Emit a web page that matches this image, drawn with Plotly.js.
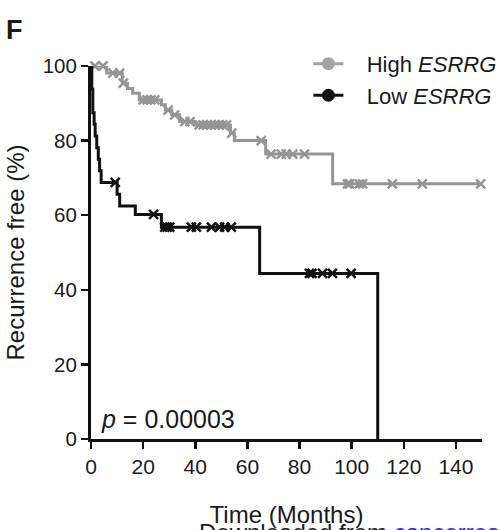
<!DOCTYPE html>
<html>
<head>
<meta charset="utf-8">
<script src="https://cdn.plot.ly/plotly-3.0.1.min.js"></script>
<style>html,body{margin:0;padding:0;background:#fff}#chart{width:503px;height:530px}</style>
</head>
<body>
<div id="chart"></div>
<script>
// ---- Data (time in months, survival in %) ----
const highTimes = [0, 6, 12, 14, 16, 18.5, 27, 28.5, 31, 34, 39.8, 53.5, 55, 67, 92.7, 149.5];
const highSurv  = [100, 98.1, 95.4, 94.0, 92.7, 90.9, 89.6, 88.2, 86.9, 85.1, 84.2, 82.0, 80.0, 76.4, 68.4, 68.4];
const highCensor = [1.5, 4.6, 8.4, 11, 12.4, 20, 21.5, 23, 24.5, 29.6, 32.1, 36, 38, 41.5, 43, 44.5, 46, 47.5, 49, 50.5, 52, 54, 65.3, 69.1, 73, 74.9, 77.4, 81.9, 98.4, 99.2, 102.9, 104.2, 115.6, 127.1, 149.5];

const lowTimes = [0, 0.3, 0.7, 1.2, 1.6, 2.2, 2.8, 3.3, 3.9, 10, 11, 17, 27, 64.7, 110];
const lowSurv  = [100, 93.8, 87.5, 84.4, 81.2, 78.1, 75.0, 71.9, 68.8, 65.6, 62.5, 60.2, 56.8, 44.4, 0];
const lowCensor = [9.3, 24, 28.3, 29.2, 30.2, 38.5, 40.4, 46.2, 49.3, 51.3, 53.8, 83.8, 84.8, 88.8, 92.6, 99.8];

const xTicks = [0, 20, 40, 60, 80, 100, 120, 140];
const yTicks = [0, 20, 40, 60, 80, 100];
const seriesNames = ['High <i>ESRRG</i>', 'Low <i>ESRRG</i>'];
const pText = '<i>p</i> = 0.00003';

const GRAY = '#959595';
const BLACK = '#111111';

function survAt(times, surv, t) {
  let s = surv[0];
  for (let i = 0; i < times.length; i++) { if (times[i] <= t) s = surv[i]; }
  return s;
}

const nb = '\u00A0\u00A0\u00A0';
const traces = [
  {x: highTimes, y: highSurv, mode: 'lines', line: {shape: 'hv', color: GRAY, width: 3}, showlegend: false, cliponaxis: false, hoverinfo: 'skip'},
  {x: highCensor, y: highCensor.map(t => survAt(highTimes, highSurv, t)), mode: 'markers', showlegend: false, cliponaxis: false,
   marker: {symbol: 'x-thin', size: 9, color: GRAY, line: {color: GRAY, width: 2.5}}},
  {x: lowTimes, y: lowSurv, mode: 'lines', line: {shape: 'hv', color: BLACK, width: 3}, showlegend: false, cliponaxis: false, hoverinfo: 'skip'},
  {x: lowCensor, y: lowCensor.map(t => survAt(lowTimes, lowSurv, t)), mode: 'markers', showlegend: false, cliponaxis: false,
   marker: {symbol: 'x-thin', size: 9, color: BLACK, line: {color: BLACK, width: 2.5}}},
  {x: [null], y: [null], mode: 'lines+markers', name: nb + seriesNames[0], line: {color: '#a3a3a3', width: 3}, marker: {color: '#a3a3a3', size: 13}},
  {x: [null], y: [null], mode: 'lines+markers', name: nb + seriesNames[1], line: {color: BLACK, width: 3}, marker: {color: BLACK, size: 13}}
];

const FONT = 'Liberation Sans, Arial, Helvetica, sans-serif';
const layout = {
  width: 503, height: 530,
  margin: {l: 91, r: 21, t: 66, b: 91, autoexpand: false},
  paper_bgcolor: '#fff', plot_bgcolor: '#fff',
  font: {family: FONT, color: '#1a1a1a', size: 20},
  showlegend: true,
  legend: {x: 0.556, y: 1.062, xanchor: 'left', yanchor: 'top', bgcolor: 'rgba(0,0,0,0)', borderwidth: 0,
           font: {family: FONT, size: 22, color: '#1a1a1a'}, tracegroupgap: 0},
  xaxis: {range: [0, 150], tickvals: xTicks, ticks: 'outside', ticklen: 7, tickwidth: 2.5, tickcolor: BLACK,
          showline: true, linewidth: 3, linecolor: BLACK, showgrid: false, zeroline: false,
          tickfont: {size: 21}, title: {text: 'Time (Months)', font: {size: 24}, standoff: 29}},
  yaxis: {range: [0, 100], tickvals: yTicks, ticks: 'outside', ticklen: 7, tickwidth: 2.5, tickcolor: BLACK,
          showline: true, linewidth: 3, linecolor: BLACK, showgrid: false, zeroline: false,
          tickfont: {size: 20.5}, title: {text: 'Recurrence free (%)', font: {size: 24}, standoff: 12}},
  annotations: [
    {text: '<b>F</b>', xref: 'paper', yref: 'paper', x: -0.222, y: 1.097, xanchor: 'left', yanchor: 'middle',
     showarrow: false, font: {size: 27, color: '#1a1a1a'}},
    {text: pText, xref: 'paper', yref: 'paper', x: 0.02, y: 0.01, xanchor: 'left', yanchor: 'bottom',
     showarrow: false, font: {size: 25, color: '#1a1a1a'}},
    {text: 'Downloaded from <span style="color:#2a2ad8">cancerres.aacrjournals.org</span>', xref: 'paper', yref: 'paper',
     x: 0.27, y: -0.21, xanchor: 'left', yanchor: 'top', showarrow: false, font: {size: 24, color: '#1a1a1a'}}
  ]
};

Plotly.newPlot('chart', traces, layout, {displayModeBar: false, staticPlot: true});
</script>
</body>
</html>
